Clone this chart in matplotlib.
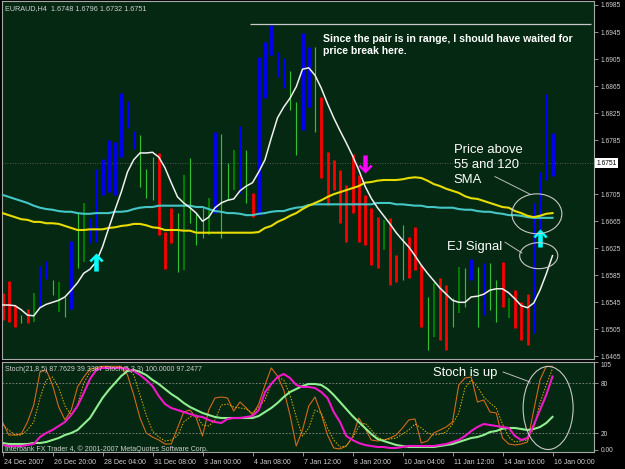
import matplotlib
matplotlib.use('Agg')
import matplotlib.pyplot as plt
import numpy as np
from matplotlib.patches import Ellipse
from matplotlib.transforms import ScaledTranslation, blended_transform_factory

plt.rcParams['font.family'] = ['Liberation Sans', 'DejaVu Sans']

# ---------------- data (EURAUD H4) ----------------
highs = [1.6559, 1.6577, 1.6541, 1.6526, 1.6535, 1.6559, 1.6599, 1.6606, 1.6578, 1.6575,
         1.6553, 1.6636, 1.6677, 1.6692, 1.6670, 1.6742, 1.6757, 1.6785, 1.6782, 1.6855,
         1.6843, 1.6798, 1.6792, 1.6742, 1.6760, 1.6766, 1.6649, 1.6685, 1.6677, 1.6734,
         1.6759, 1.6677, 1.6685, 1.6699, 1.6797, 1.6794, 1.6751, 1.6770, 1.6806, 1.6770,
         1.6707, 1.6908, 1.6930, 1.6955, 1.6915, 1.6907, 1.6887, 1.6841, 1.6944, 1.6923,
         1.6923, 1.6849, 1.6767, 1.6756, 1.6741, 1.6718, 1.6765, 1.6734, 1.6704, 1.6685,
         1.6671, 1.6667, 1.6670, 1.6615, 1.6659, 1.6641, 1.6656, 1.6600, 1.6553, 1.6574,
         1.6581, 1.6571, 1.6552, 1.6597, 1.6596, 1.6609, 1.6597, 1.6603, 1.6603, 1.6578,
         1.6605, 1.6552, 1.6563, 1.6546, 1.6557, 1.6692, 1.6738, 1.6853, 1.6796]
lows = [1.6519, 1.6516, 1.6508, 1.6514, 1.6514, 1.6516, 1.6538, 1.6580, 1.6556, 1.6531,
        1.6523, 1.6535, 1.6596, 1.6605, 1.6633, 1.6634, 1.6704, 1.6708, 1.6704, 1.6760,
        1.6803, 1.6772, 1.6716, 1.6699, 1.6696, 1.6645, 1.6594, 1.6633, 1.6590, 1.6593,
        1.6662, 1.6630, 1.6640, 1.6645, 1.6677, 1.6640, 1.6696, 1.6711, 1.6707, 1.6692,
        1.6671, 1.6674, 1.6847, 1.6911, 1.6878, 1.6862, 1.6829, 1.6763, 1.6800, 1.6834,
        1.6797, 1.6729, 1.6689, 1.6711, 1.6662, 1.6634, 1.6677, 1.6634, 1.6630, 1.6600,
        1.6596, 1.6622, 1.6571, 1.6575, 1.6578, 1.6581, 1.6593, 1.6508, 1.6474, 1.6494,
        1.6489, 1.6474, 1.6508, 1.6529, 1.6538, 1.6578, 1.6508, 1.6526, 1.6534, 1.6516,
        1.6538, 1.6522, 1.6507, 1.6489, 1.6482, 1.6499, 1.6649, 1.6726, 1.6732]
# B = up (blue), R = down (red), G = neutral (light green), D = neutral (dark green)
bar_state = list("RRRGRDBBGD" "GBGDBBBBBB" "BBGGGRRRGD" "GGGDBGGDBG" "RBBBBBGGBB"
                 "GRRRRRRRRR" "RDRRGRRRGD" "RRGDGBGBGG" "RDRRRBBBB")

fast_ma = [1.6541, 1.6541, 1.6540, 1.6534, 1.6526, 1.6525, 1.6537, 1.6542, 1.6545, 1.6548,
           1.6553, 1.6563, 1.6574, 1.6588, 1.6594, 1.6605, 1.6627, 1.6655, 1.6682, 1.6708,
           1.6738, 1.6756, 1.6766, 1.6766, 1.6767, 1.6760, 1.6744, 1.6722, 1.6701, 1.6692,
           1.6685, 1.6677, 1.6665, 1.6671, 1.6685, 1.6692, 1.6696, 1.6698, 1.6710, 1.6717,
           1.6722, 1.6738, 1.6756, 1.6788, 1.6818, 1.6834, 1.6847, 1.6864, 1.6890, 1.6892,
           1.6881, 1.6862, 1.6839, 1.6818, 1.6799, 1.6781, 1.6762, 1.6741, 1.6717, 1.6699,
           1.6685, 1.6673, 1.6661, 1.6648, 1.6637, 1.6627, 1.6614, 1.6600, 1.6588, 1.6577,
           1.6566, 1.6557, 1.6548, 1.6545, 1.6545, 1.6553, 1.6554, 1.6557, 1.6563, 1.6565,
           1.6565, 1.6559, 1.6550, 1.6540, 1.6537, 1.6544, 1.6563, 1.6587, 1.6614]
sma55 = [1.6677, 1.6674, 1.6671, 1.6668, 1.6667, 1.6664, 1.6664, 1.6662, 1.6662, 1.6661,
         1.6658, 1.6655, 1.6652, 1.6652, 1.6653, 1.6653, 1.6653, 1.6655, 1.6656, 1.6658,
         1.6659, 1.6661, 1.6661, 1.6659, 1.6656, 1.6655, 1.6652, 1.6652, 1.6652, 1.6651,
         1.6651, 1.6648, 1.6648, 1.6648, 1.6648, 1.6648, 1.6648, 1.6648, 1.6648, 1.6648,
         1.6648, 1.6649, 1.6655, 1.6658, 1.6664, 1.6668, 1.6673, 1.6677, 1.6683, 1.6688,
         1.6692, 1.6696, 1.6701, 1.6705, 1.6708, 1.6711, 1.6714, 1.6717, 1.6722, 1.6723,
         1.6725, 1.6726, 1.6726, 1.6726, 1.6727, 1.6729, 1.6730, 1.6729, 1.6725, 1.6720,
         1.6717, 1.6713, 1.6710, 1.6707, 1.6702, 1.6699, 1.6698, 1.6695, 1.6692, 1.6689,
         1.6686, 1.6685, 1.6680, 1.6677, 1.6673, 1.6671, 1.6673, 1.6676, 1.6677]
sma120 = [1.6704, 1.6701, 1.6698, 1.6695, 1.6692, 1.6688, 1.6685, 1.6683, 1.6682, 1.6680,
          1.6679, 1.6679, 1.6677, 1.6676, 1.6676, 1.6677, 1.6677, 1.6677, 1.6679, 1.6679,
          1.6680, 1.6683, 1.6685, 1.6686, 1.6686, 1.6688, 1.6688, 1.6688, 1.6688, 1.6688,
          1.6688, 1.6686, 1.6686, 1.6683, 1.6680, 1.6679, 1.6677, 1.6677, 1.6676, 1.6674,
          1.6674, 1.6676, 1.6677, 1.6679, 1.6680, 1.6680, 1.6683, 1.6685, 1.6686, 1.6689,
          1.6690, 1.6690, 1.6690, 1.6690, 1.6690, 1.6690, 1.6690, 1.6690, 1.6690, 1.6690,
          1.6692, 1.6692, 1.6692, 1.6690, 1.6690, 1.6689, 1.6688, 1.6688, 1.6686, 1.6686,
          1.6685, 1.6685, 1.6685, 1.6683, 1.6682, 1.6682, 1.6680, 1.6679, 1.6679, 1.6677,
          1.6676, 1.6674, 1.6674, 1.6673, 1.6671, 1.6670, 1.6670, 1.6670, 1.6670]

stoch5_main = [33.2, 17.6, 17.6, 18.8, 33.2, 53.6, 93.2, 95.6, 77.6, 51.2,
               35.6, 47.6, 75.2, 87.2, 96.8, 98.0, 100.0, 100.0, 100.0, 100.0,
               89.6, 65.6, 38.0, 20.0, 15.2, 11.6, 6.8, 6.8, 26.0, 45.2,
               47.6, 38.0, 16.4, 47.6, 62.0, 63.2, 62.0, 46.4, 57.2, 50.0,
               41.6, 54.8, 77.6, 98.0, 88.4, 71.6, 41.6, 4.4, 23.6, 52.4,
               63.2, 42.8, 17.6, 2.0, 0.8, 4.4, 15.2, 38.0, 26.0, 11.6,
               10.4, 11.6, 14.0, 17.6, 26.0, 35.6, 36.8, 8.0, 10.4, 20.0,
               23.6, 27.2, 33.2, 77.6, 86.0, 87.2, 57.2, 59.6, 45.2, 44.0,
               14.0, 6.8, 5.6, 6.8, 9.2, 47.6, 83.6, 100.0, 100.0]
stoch5_signal = [29.6, 23.6, 17.6, 17.6, 23.6, 33.2, 62.0, 83.6, 87.2, 74.0,
                 52.4, 41.6, 53.6, 80.0, 93.2, 96.8, 98.0, 98.0, 98.0, 98.0,
                 98.0, 89.6, 65.6, 41.6, 22.4, 15.2, 10.4, 11.6, 16.4, 33.2,
                 39.2, 41.6, 29.6, 28.4, 35.6, 53.6, 54.8, 51.2, 50.0, 48.8,
                 44.0, 51.2, 59.6, 78.8, 87.2, 83.6, 65.6, 39.2, 16.4, 26.0,
                 47.6, 44.0, 26.0, 11.6, 3.2, 4.4, 14.0, 27.2, 32.0, 23.6,
                 15.2, 11.6, 12.8, 14.0, 18.8, 23.6, 30.8, 26.0, 20.0, 17.6,
                 18.8, 21.2, 30.8, 44.0, 74.0, 83.6, 75.2, 63.2, 56.0, 50.0,
                 30.8, 15.2, 9.2, 10.4, 11.6, 26.0, 56.0, 77.6, 97.2]
stoch21_main = [5.6, 4.4, 4.4, 4.4, 5.6, 6.8, 15.2, 20.0, 23.6, 28.4,
                33.2, 41.6, 52.4, 68.0, 84.8, 95.6, 98.0, 98.0, 98.0, 98.0,
                96.8, 94.4, 89.6, 83.6, 76.4, 64.4, 54.8, 50.0, 47.6, 45.2,
                42.8, 40.4, 39.2, 35.6, 33.2, 32.0, 36.8, 38.0, 38.0, 39.2,
                40.4, 47.6, 69.0, 78.8, 87.2, 90.8, 86.0, 77.6, 75.2, 75.2,
                74.0, 69.2, 62.0, 45.2, 33.2, 16.4, 11.6, 8.0, 5.6, 4.4,
                3.2, 3.2, 2.0, 2.0, 3.2, 4.4, 4.4, 4.4, 4.4, 4.4,
                5.6, 6.8, 9.2, 11.6, 16.4, 22.4, 27.2, 30.8, 29.6, 28.4,
                27.2, 26.0, 16.4, 11.6, 14.0, 29.6, 47.6, 65.6, 87.76]
stoch21_signal = [8.0, 6.8, 6.8, 6.8, 6.8, 8.0, 8.0, 9.2, 11.6, 14.0,
                  17.6, 20.0, 23.6, 30.8, 38.0, 50.0, 62.0, 71.6, 80.0, 88.4,
                  94.4, 95.6, 93.2, 89.6, 83.6, 78.8, 72.8, 66.8, 62.0, 56.0,
                  51.2, 47.6, 44.0, 41.6, 39.2, 38.0, 38.0, 38.0, 38.0, 38.0,
                  38.0, 40.4, 45.2, 50.0, 56.0, 63.2, 69.2, 72.8, 76.4, 78.8,
                  78.8, 77.6, 72.8, 65.6, 57.2, 48.8, 40.4, 33.2, 26.0, 18.8,
                  12.8, 10.4, 8.0, 5.6, 4.4, 3.2, 3.2, 3.2, 3.2, 3.2,
                  4.4, 5.6, 6.8, 9.2, 11.6, 14.0, 15.2, 17.6, 21.2, 22.4,
                  25.2, 26.0, 26.0, 24.8, 23.6, 24.8, 27.2, 32.0, 39.34]

time_labels = ["24 Dec 2007", "26 Dec 20:00", "28 Dec 04:00", "31 Dec 08:00", "3 Jan 00:00",
               "4 Jan 08:00", "7 Jan 12:00", "8 Jan 20:00", "10 Jan 04:00", "11 Jan 12:00",
               "14 Jan 16:00", "16 Jan 00:00"]
time_label_bars = [0, 8, 16, 24, 32, 40, 48, 56, 64, 72, 80, 88]
price_ticks = [1.6985, 1.6945, 1.6905, 1.6865, 1.6825, 1.6785, 1.6745, 1.6705,
               1.6665, 1.6625, 1.6585, 1.6545, 1.6505, 1.6465]
stoch_ticks = [105, 80, 20, 0]
stoch_tick_labels = ["105", "80", "20", "0.00"]
last_price = 1.6751
range_top = 1.6957
buy_signal_bars = [15, 86]
sell_signal_bars = [58]

# ---------------- figure ----------------
W, H = 625, 469
BG = '#052812'
FRAME = '#A8A8A8'
TXT = '#D0D0D0'
fig = plt.figure(figsize=(W / 100, H / 100), dpi=100, facecolor='black')
ax = fig.add_axes([2 / W, (H - 359) / H, 592 / W, 358 / H], facecolor=BG)
ax2 = fig.add_axes([2 / W, 17 / H, 592 / W, 90 / H], facecolor=BG)

x = np.arange(len(highs))
hi = np.array(highs)
lo = np.array(lows)
state = np.array(bar_state)
styles = {'D': ('#007A00', 1.5), 'G': ('#33BF33', 0.85), 'R': ('#FF0000', 2.0), 'B': ('#0000FF', 2.0)}
for k, (c, lw) in styles.items():
    m = state == k
    ax.vlines(x[m], lo[m], hi[m], colors=c, linewidth=lw, zorder=2)

ax.axhline(last_price, color='#6A6A6A', ls=(0, (1, 2)), lw=0.6, zorder=1)
ax.plot(x, sma120, color='#45C6C6', lw=1.5, zorder=3)
ax.plot(x, sma55, color='#E6DC00', lw=1.5, zorder=3)
ax.plot(x, fast_ma, color='#F0F0F0', lw=1.1, zorder=4)

up_arrow = [(0, 1), (0.8, 0.2), (0.55, 0.02), (0.25, 0.38), (0.25, -1), (-0.25, -1),
            (-0.25, 0.38), (-0.55, 0.02), (-0.8, 0.2), (0, 1)]
down_arrow = [(vx, -vy) for vx, vy in up_arrow]
for b in buy_signal_bars:
    ax.plot([b], [lows[b] - 0.0009 if b == 86 else lows[b] - 0.0029], marker=up_arrow, ms=13,
            color='#00FFFF', mew=0, zorder=5)
for b in sell_signal_bars:
    ax.plot([b], [highs[b] + 0.0046], marker=down_arrow, ms=13, color='#FF00FF', mew=0, zorder=5)

ax.hlines(range_top, 39.6, 94.2, color='#C8C8C8', lw=0.9, zorder=3)

ax.text(51.3, 1.6942, "Since the pair is in range, I should have waited for\nprice break here.",
        color='white', fontsize=7.55, fontweight='bold', va='top', ha='left', linespacing=1.2, zorder=6)
ax.text(72.2, 1.6780, "Price above\n55 and 120\nSMA", color='white', fontsize=9.4,
        va='top', ha='left', linespacing=1.36, zorder=6)
ax.text(71.1, 1.6627, "EJ Signal", color='white', fontsize=9.4, va='center', ha='left', zorder=6)
ax.plot([78.8, 84.4], [1.6731, 1.6705], color='#BEBEBE', lw=0.7, zorder=6)
ax.plot([80.4, 83.1], [1.6634, 1.6618], color='#BEBEBE', lw=0.7, zorder=6)
ax.add_patch(Ellipse((85.5, 1.6676), 8.0, 0.0059, fill=False, ec='#C8C8C8', lw=0.8, zorder=6))
ax.add_patch(Ellipse((85.8, 1.6614), 6.1, 0.00385, fill=False, ec='#C8C8C8', lw=0.8, zorder=6))

ax.text(0.005, 0.979, "EURAUD,H4  1.6748 1.6796 1.6732 1.6751", transform=ax.transAxes,
        color=TXT, fontsize=5.2, va='center', ha='left')

ax.set_xlim(-0.08, 94.64)
ax.set_ylim(1.64611, 1.69909)
ax.yaxis.tick_right()
ax.set_yticks(price_ticks)
# the 1.6745 label sits behind the current-price box in the reference
ax.set_yticklabels(["" if abs(p - 1.6745) < 1e-6 else f"{p:.4f}" for p in price_ticks])
ax.tick_params(axis='y', right=True, left=False, length=3, width=0.6, color=FRAME,
               labelcolor=TXT, labelsize=4.8, pad=2)
ax.set_xticks([])
for s in ax.spines.values():
    s.set_color(FRAME)
    s.set_linewidth(0.8)

tr = blended_transform_factory(ax.transAxes, ax.transData)
ax.text(1.0045, last_price, f"{last_price:.4f}", transform=tr, fontsize=4.8, color='black',
        va='center', ha='left', clip_on=False, zorder=10,
        bbox=dict(boxstyle='square,pad=0.18', fc='white', ec='none'))

# ---------------- stochastic panel ----------------
ax2.axhline(80, color='#8C8C8C', ls=(0, (2, 2)), lw=0.6)
ax2.axhline(20, color='#8C8C8C', ls=(0, (2, 2)), lw=0.6)
ax2.plot(x, stoch5_main, color='#D2691E', lw=0.8)
ax2.plot(x, stoch5_signal, color='#E0B000', lw=0.7, ls=(0, (1.5, 1.5)))
ax2.plot(x, stoch21_signal, color='#90EE90', lw=1.5)
ax2.plot(x, stoch21_main, color='#F018C8', lw=1.5)

ax2.text(68.9, 92, "Stoch is up", color='white', fontsize=9.4, va='center', ha='left', zorder=6)
ax2.plot([80.1, 84.4], [93.2, 81.2], color='#BEBEBE', lw=0.7, zorder=6)
ax2.add_patch(Ellipse((87.3, 50), 8.0, 99.6, fill=False, ec='#C8C8C8', lw=0.8, zorder=6))

ax2.text(0.005, 0.915, "Stoch(21,8,5) 87.7629 39.3387 Stoch(5,3,3) 100.0000 97.2477",
         transform=ax2.transAxes, color=TXT, fontsize=5.0, va='center', ha='left')
ax2.text(0.005, 0.035, "Interbank FX Trader 4, \u00a9 2001-2007 MetaQuotes Software Corp.",
         transform=ax2.transAxes, color=TXT, fontsize=5.0, va='center', ha='left')

ax2.set_xlim(-0.08, 94.64)
ax2.set_ylim(-2.8, 105.2)
ax2.yaxis.tick_right()
ax2.set_yticks(stoch_ticks)
ax2.set_yticklabels(stoch_tick_labels)
ax2.tick_params(axis='y', right=True, left=False, length=3, width=0.6, color=FRAME,
                labelcolor=TXT, labelsize=4.8, pad=2)
ax2.get_yticklabels()[0].set_va('top')
ax2.set_xticks(time_label_bars)
ax2.set_xticklabels(time_labels, ha='left')
ax2.tick_params(axis='x', bottom=True, length=3, width=0.6, color=FRAME,
                labelcolor=TXT, labelsize=5.0, pad=2)
off = ScaledTranslation(2 / 100, 0, fig.dpi_scale_trans)
for lab in ax2.get_xticklabels():
    lab.set_transform(lab.get_transform() + off)
for s in ax2.spines.values():
    s.set_color(FRAME)
    s.set_linewidth(0.8)

fig.savefig('out.png', dpi=100, facecolor='black')
